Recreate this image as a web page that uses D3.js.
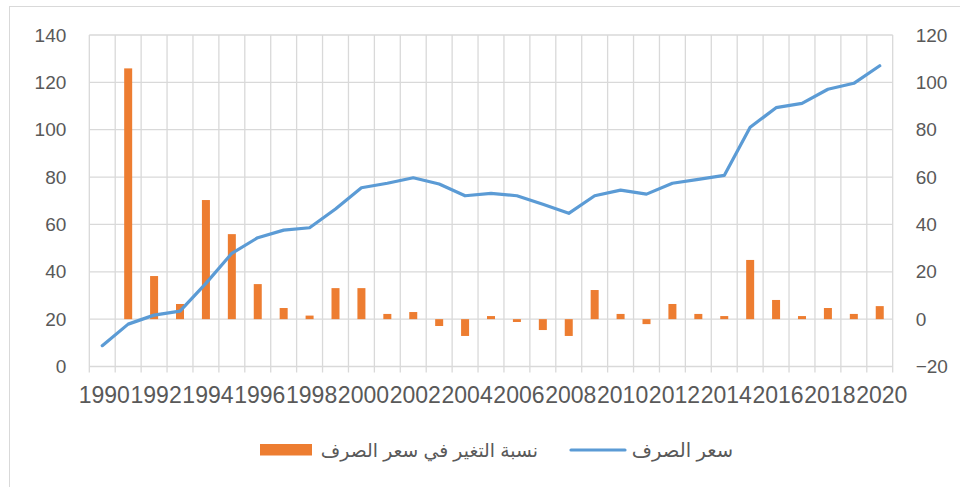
<!DOCTYPE html>
<html>
<head>
<meta charset="utf-8">
<script src="https://cdn.jsdelivr.net/npm/d3@7"></script>
<style>
  body { margin: 0; background: #fff; }
  svg { display: block; font-family: "Liberation Sans", Arial, "DejaVu Sans", sans-serif; }
  .grid line { stroke: #d9d9d9; stroke-width: 1.3; }
  .tick text { fill: #595959; }
</style>
</head>
<body>
<svg id="chart" width="960" height="487"></svg>
<script>
const years = d3.range(1990, 2021)
const rate = [8.8, 17.9, 21.7, 23.4, 35.1, 47.8, 54.4, 57.6, 58.6, 66.5,
  75.5, 77.4, 79.7, 77.1, 72.1, 73.1, 72.1, 68.5, 64.7, 72.1,
  74.5, 72.8, 77.4, 79.0, 80.7, 101.0, 109.3, 111.1, 117.1, 119.6, 127.0]
const change = [null, 105.9, 18.2, 6.4, 50.3, 35.9, 14.8, 4.7, 1.5, 13.1,
  13.1, 2.2, 3.0, -2.9, -7.1, 1.3, -1.2, -4.6, -7.1, 12.3,
  2.2, -2.1, 6.4, 2.2, 1.3, 25.0, 8.1, 1.3, 4.7, 2.2, 5.5]
const leftTicks = d3.range(0, 141, 20)
const rightTicks = d3.range(-20, 121, 20)
const labelYears = d3.range(1990, 2021, 2)
const barLabel = "نسبة التغير في سعر الصرف"
const lineLabel = "سعر الصرف"

const svg = d3.select('#chart')
const plotLeft = 89.3, plotRight = 892.7, plotTop = 35, plotBottom = 366.5

// frame
svg.append('rect')
  .attr('x', 9.5).attr('y', 6.5)
  .attr('width', 1000).attr('height', 600)
  .attr('fill', 'none').attr('stroke', '#d9d9d9').attr('stroke-width', 1)

const x = d3.scaleBand(years, [plotLeft, plotRight])
const yLeft = d3.scaleLinear([0, 140], [plotBottom, plotTop])
const yRight = d3.scaleLinear([-20, 120], [plotBottom, plotTop])

// horizontal gridlines
svg.append('g').attr('class', 'grid')
  .selectAll('line')
  .data(leftTicks)
  .join('line')
  .attr('x1', plotLeft).attr('x2', plotRight)
  .attr('y1', d => yLeft(d)).attr('y2', d => yLeft(d))

// vertical gridlines at category boundaries
const bounds = years.map(d => x(d)).concat([plotRight])
svg.append('g').attr('class', 'grid')
  .selectAll('line')
  .data(bounds)
  .join('line')
  .attr('x1', d => d).attr('x2', d => d)
  .attr('y1', plotTop).attr('y2', plotBottom + 6)

// bars (right axis)
const barW = 8
svg.append('g')
  .selectAll('rect')
  .data(years.map((yr, i) => ({yr, v: change[i]})).filter(d => d.v !== null))
  .join('rect')
  .attr('x', d => x(d.yr) + x.bandwidth() / 2 - barW / 2)
  .attr('width', barW)
  .attr('y', d => yRight(Math.max(0, d.v)))
  .attr('height', d => Math.abs(yRight(d.v) - yRight(0)))
  .attr('fill', '#ed7d31')

// line (left axis)
const line = d3.line()
  .x((d, i) => x(years[i]) + x.bandwidth() / 2)
  .y(d => yLeft(d))
svg.append('path')
  .datum(rate)
  .attr('d', line)
  .attr('fill', 'none')
  .attr('stroke', '#5b9bd5')
  .attr('stroke-width', 3.2)
  .attr('stroke-linejoin', 'round')
  .attr('stroke-linecap', 'round')

// axes
const yAxisL = d3.axisLeft(yLeft).tickValues(leftTicks).tickSize(0).tickPadding(23)
svg.append('g').attr('transform', `translate(${plotLeft},0)`).call(yAxisL)
  .call(g => g.select('.domain').remove())
  .selectAll('text').attr('font-size', 19)

const yAxisR = d3.axisRight(yRight).tickValues(rightTicks).tickSize(0).tickPadding(23)
svg.append('g').attr('transform', `translate(${plotRight},0)`).call(yAxisR)
  .call(g => g.select('.domain').remove())
  .selectAll('text').attr('font-size', 19)

const xAxis = d3.axisBottom(x).tickValues(labelYears).tickSize(0).tickPadding(20)
svg.append('g').attr('transform', `translate(0,${plotBottom})`).call(xAxis)
  .call(g => g.select('.domain').remove())
  .selectAll('text').attr('font-size', 23).attr('dx', 2)

// legend
const leg = svg.append('g').attr('fill', '#595959')
leg.append('rect').attr('x', 260).attr('y', 444).attr('width', 52).attr('height', 11.5).attr('fill', '#ed7d31')
leg.append('text').attr('x', 538).attr('y', 450).attr('dy', '0.35em').attr('font-size', 18.8)
  .attr('text-anchor', 'end').text(barLabel)
leg.append('line').attr('x1', 571).attr('x2', 625).attr('y1', 450).attr('y2', 450)
  .attr('stroke', '#5b9bd5').attr('stroke-width', 3.2).attr('stroke-linecap', 'round')
leg.append('text').attr('x', 733).attr('y', 450).attr('dy', '0.35em').attr('font-size', 19.5)
  .attr('text-anchor', 'end').text(lineLabel)
</script>
</body>
</html>
